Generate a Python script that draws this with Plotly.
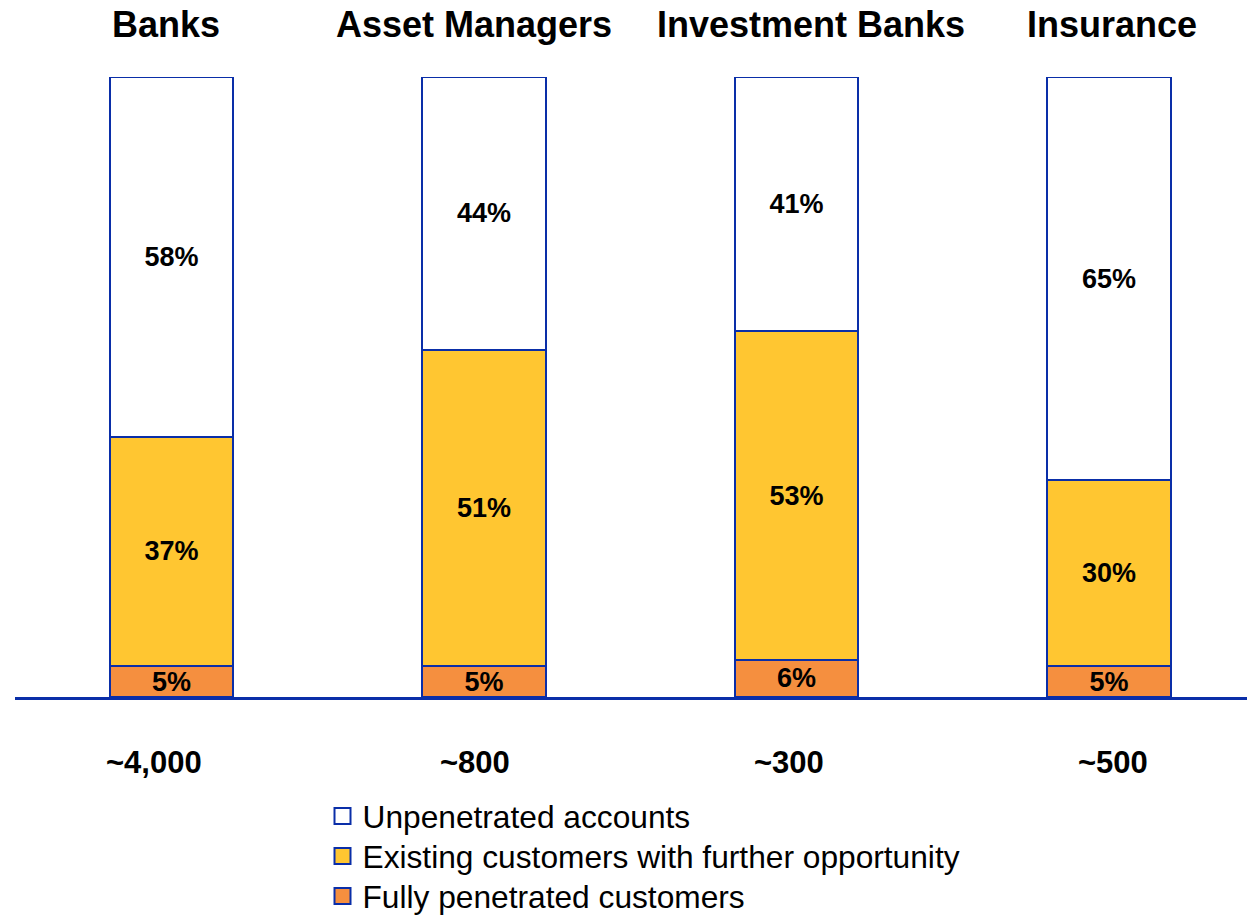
import plotly.graph_objects as go

# Segment shares (%) per sector, bottom to top
sectors = ["Banks", "Asset Managers", "Investment Banks", "Insurance"]
account_counts = ["~4,000", "~800", "~300", "~500"]
fully_penetrated = [5, 5, 6, 5]
further_opportunity = [37, 51, 53, 30]
unpenetrated = [58, 44, 41, 65]

series_names = [
    "Fully penetrated customers",
    "Existing customers with further opportunity",
    "Unpenetrated accounts",
]
series_values = [fully_penetrated, further_opportunity, unpenetrated]
series_colors = ["#F58F3F", "#FFC631", "#FFFFFF"]

EDGE = "#0A2EA8"
FONT = "Liberation Sans, Arial, sans-serif"

x_pos = list(range(len(sectors)))

fig = go.Figure()
for name, vals, color in zip(series_names, series_values, series_colors):
    fig.add_trace(go.Bar(
        x=x_pos,
        y=vals,
        name=name,
        width=0.395,
        marker=dict(color=color, line=dict(color=EDGE, width=2)),
        text=[f"{v}%" for v in vals],
        textposition="inside",
        insidetextanchor="middle",
        constraintext="none",
        textangle=0,
        textfont=dict(family=FONT, size=27, color="black", weight="bold"),
        hoverinfo="skip",
        showlegend=False,
    ))

# Legend keys: one single-entry legend per row so the rows sit tightly,
# listed top segment first
legend_ids = ["legend", "legend2", "legend3"]
for lid, (name, color) in zip(legend_ids,
                              reversed(list(zip(series_names, series_colors)))):
    fig.add_trace(go.Scatter(
        x=[None], y=[None], mode="markers", name=name, legend=lid,
        marker=dict(symbol="square", size=16, color=color,
                    line=dict(color=EDGE, width=2)),
        hoverinfo="skip",
    ))

# Sector headings above the bars and account counts below the axis
title_shift = [-6, -10, 14, 3]
count_shift = [-18, -9, -8, 4]
for i, (sector, count) in enumerate(zip(sectors, account_counts)):
    fig.add_annotation(
        x=x_pos[i], y=1.0839, xref="x", yref="paper",
        text=sector, showarrow=False, xshift=title_shift[i],
        yanchor="middle",
        font=dict(family=FONT, size=36, color="black", weight="bold"),
    )
    fig.add_annotation(
        x=x_pos[i], y=-0.105, xref="x", yref="paper",
        text=count, showarrow=False, xshift=count_shift[i],
        yanchor="middle",
        font=dict(family=FONT, size=31, color="black", weight="bold"),
    )


def legend_box(top_px):
    return dict(
        itemsizing="trace",
        x=0.2496, y=1 - top_px / 916, xanchor="left", yanchor="top",
        yref="container",
        font=dict(family=FONT, size=31.7, color="black"),
        bgcolor="rgba(0,0,0,0)",
        itemclick=False, itemdoubleclick=False,
    )


fig.update_layout(
    barmode="stack",
    width=1247,
    height=916,
    margin=dict(l=15, r=0, t=77, b=219),
    paper_bgcolor="white",
    plot_bgcolor="white",
    showlegend=True,
    legend=legend_box(789),
    legend2=legend_box(829),
    legend3=legend_box(869),
    xaxis=dict(
        range=[-0.5008, 3.4416],
        showgrid=False, zeroline=False,
        showticklabels=False, ticks="",
        showline=True, linecolor=EDGE, linewidth=3,
        fixedrange=True,
    ),
    yaxis=dict(
        range=[0, 100],
        visible=False, fixedrange=True,
    ),
)

fig.write_html("out.html")
